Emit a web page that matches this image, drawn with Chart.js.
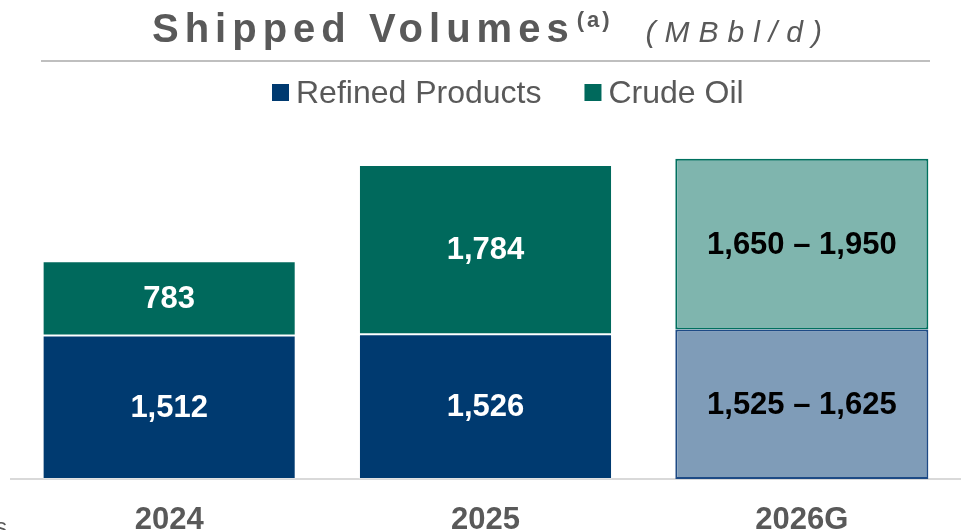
<!DOCTYPE html>
<html>
<head>
<meta charset="utf-8">
<script src="https://cdn.jsdelivr.net/npm/chart.js@4/dist/chart.umd.min.js"></script>
<style>
  html, body { margin: 0; padding: 0; background: #fff; }
  #wrap { width: 962px; height: 530px; position: relative; }
</style>
</head>
<body>
<div id="wrap"><canvas id="volChart"></canvas></div>
<script>
// values (2026G is guidance, drawn at the range midpoint)
const years = ["2024", "2025", "2026G"];
const refined = [1512, 1526, 1575];
const crude = [783, 1784, 1800];
const refinedText = ["1,512", "1,526", "1,525 \u2013 1,625"];
const crudeText = ["783", "1,784", "1,650 \u2013 1,950"];
const isGuidance = [false, false, true];

const FONT = "'Liberation Sans', Arial, Helvetica, sans-serif";
const GRAY = "#595959";

function pick(normal, guide) {
    return (c) => (isGuidance[c.dataIndex] ? guide : normal);
}

const decor = {
    id: "decor",
    beforeDraw(chart) {
        const ctx = chart.ctx;
        ctx.save();
        ctx.fillStyle = GRAY;
        ctx.textBaseline = "alphabetic";
        ctx.textAlign = "left";

        // title, letter spaced
        const parts = [
            { t: "Shipped Volumes", f: "bold 40px " + FONT, s: "6px", dy: 0, gap: 0 },
            { t: "(a)", f: "bold 22px " + FONT, s: "3px", dy: -15, gap: 2 },
            { t: "(MBbl/d)", f: "italic 30px " + FONT, s: "9px", dy: 0, gap: 33 },
        ];
        let x = 152;
        parts.forEach((p) => {
            x += p.gap;
            ctx.font = p.f;
            ctx.letterSpacing = p.s;
            ctx.fillText(p.t, x, 42 + p.dy);
            x += ctx.measureText(p.t).width;
        });
        ctx.letterSpacing = "0px";

        ctx.strokeStyle = "#BFBFBF";
        ctx.lineWidth = 2;
        ctx.beginPath();
        ctx.moveTo(41, 61);
        ctx.lineTo(930, 61);
        ctx.stroke();

        // legend
        ctx.font = "32px " + FONT;
        let lx = 272;
        chart.data.datasets.forEach((ds) => {
            ctx.fillStyle = ds.legendColor;
            ctx.fillRect(lx, 84, 17, 17);
            ctx.fillStyle = GRAY;
            ctx.fillText(ds.label, lx + 24, 103);
            lx += 24 + ctx.measureText(ds.label).width + 43;
        });

        // clipped text from the neighbouring panel
        ctx.font = "24px " + FONT;
        ctx.fillText("s", -5, 535);
        ctx.restore();
    },
    afterDatasetsDraw(chart) {
        const ctx = chart.ctx;
        ctx.save();
        ctx.font = "bold 31px " + FONT;
        ctx.textAlign = "center";
        ctx.textBaseline = "middle";
        chart.data.datasets.forEach((ds, di) => {
            chart.getDatasetMeta(di).data.forEach((bar, i) => {
                ctx.fillStyle = isGuidance[i] ? "#000000" : "#FFFFFF";
                ctx.fillText(ds.valueText[i], bar.x, (bar.y + bar.base) / 2 + 1);
            });
        });
        ctx.restore();
    },
};

new Chart(document.getElementById("volChart"), {
    type: "bar",
    data: {
        labels: years,
        datasets: [
            {
                label: "Refined Products",
                data: refined,
                valueText: refinedText,
                legendColor: "#003A70",
                backgroundColor: pick("#003A70", "#7F9CB8"),
                borderColor: pick("rgba(255,255,255,0.25)", "#1D4A85"),
                borderWidth: pick(1, 2),
                borderSkipped: false,
            },
            {
                label: "Crude Oil",
                data: crude,
                valueText: crudeText,
                legendColor: "#00695C",
                backgroundColor: pick("#00695C", "#7FB5AE"),
                borderColor: pick("rgba(255,255,255,0.25)", "#00705F"),
                borderWidth: pick(1, 2),
                borderSkipped: false,
            },
        ],
    },
    options: {
        responsive: true,
        maintainAspectRatio: false,
        animation: false,
        layout: { padding: { top: 147, left: 11, right: 2, bottom: -32 } },
        plugins: {
            legend: { display: false },
            title: { display: false },
            tooltip: { enabled: false },
        },
        datasets: { bar: { barPercentage: 0.8, categoryPercentage: 1 } },
        scales: {
            x: {
                stacked: true,
                grid: { display: false, drawTicks: false },
                border: { color: "#D9D9D9", width: 2 },
                ticks: {
                    color: GRAY,
                    padding: 26,
                    font: { family: FONT, size: 31, weight: "bold", lineHeight: 1 },
                },
            },
            y: {
                stacked: true,
                display: false,
                min: 0,
                max: 3500,
            },
        },
    },
    plugins: [decor],
});
</script>
</body>
</html>
